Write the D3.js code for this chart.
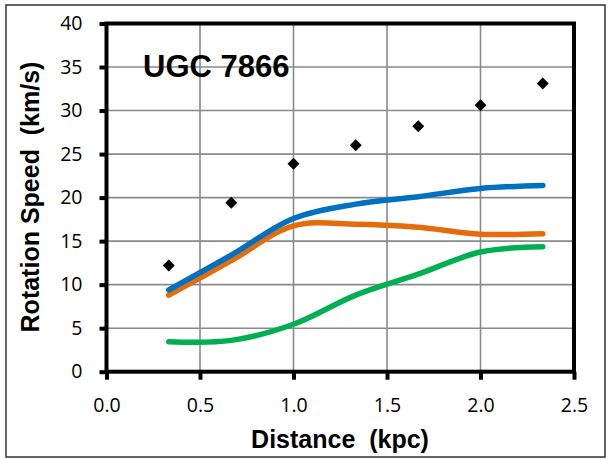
<!DOCTYPE html>
<html><head><meta charset="utf-8">
<script src="https://cdn.jsdelivr.net/npm/d3@7"></script>
<style>html,body{margin:0;padding:0;background:#fff}svg{display:block}</style>
</head><body>
<script>
const distances = [0.333, 0.667, 1.0, 1.333, 1.667, 2.0, 2.333];
const observed = [12.2, 19.4, 23.9, 26.0, 28.2, 30.6, 33.1];
const blueSeries = [9.4, 13.4, 17.6, 19.25, 20.1, 21.05, 21.4];
const orangeSeries = [8.8, 12.75, 16.75, 16.95, 16.6, 15.8, 15.85];
const greenSeries = [3.45, 3.6, 5.45, 8.8, 11.2, 13.75, 14.35];
const xTicks = [0, 0.5, 1.0, 1.5, 2.0, 2.5];
const yTicks = [0, 5, 10, 15, 20, 25, 30, 35, 40];
const chartTitle = "UGC 7866";
const xTitle = "Distance  (kpc)";
const yTitle = "Rotation Speed  (km/s)";

const W = 608, H = 459;
const svg = d3.select("body").append("svg").attr("width", W).attr("height", H);
svg.append("rect").attr("x", 6).attr("y", 5).attr("width", 599).attr("height", 452)
  .attr("fill", "#fff").attr("stroke", "#333").attr("stroke-width", 1.5);

const x = d3.scaleLinear().domain([0, 2.5]).range([106.5, 574]);
const y = d3.scaleLinear().domain([0, 40]).range([371.7, 23.5]);

// gridlines
const grid = svg.append("g");
grid.selectAll("line.v").data(xTicks.slice(1, -1)).enter().append("line")
  .attr("x1", d => x(d)).attr("x2", d => x(d)).attr("y1", y(40)).attr("y2", y(0))
  .attr("stroke", "#8a8a8a").attr("stroke-width", 1.6);
grid.selectAll("line.h").data(yTicks.slice(1, -1)).enter().append("line")
  .attr("x1", x(0)).attr("x2", x(2.5)).attr("y1", d => y(d)).attr("y2", d => y(d))
  .attr("stroke", "#8a8a8a").attr("stroke-width", 1.6);

// axes
const font = "'Open Sans', 'Noto Sans', sans-serif";
const xAxis = d3.axisBottom(x).tickValues(xTicks).tickFormat(d3.format(".1f")).tickSize(8).tickPadding(18);
const yAxis = d3.axisLeft(y).tickValues(yTicks).tickFormat(d3.format("d")).tickSize(7).tickPadding(17);
const gx = svg.append("g").attr("transform", `translate(0,${y(0)})`).call(xAxis);
const gy = svg.append("g").attr("transform", `translate(${x(0)},0)`).call(yAxis);
[gx, gy].forEach(g => {
  g.select(".domain").remove();
  g.selectAll(".tick line").attr("stroke", "#000").attr("stroke-width", 4);
  g.selectAll(".tick text").attr("fill", "#000").style("font-family", font).style("font-size", "19.5px");
});
gx.selectAll(".tick text").attr("dy", "0.71em");
// frame
svg.append("rect").attr("x", x(0)).attr("y", y(40)).attr("width", x(2.5) - x(0)).attr("height", y(0) - y(40))
  .attr("fill", "none").attr("stroke", "#000").attr("stroke-width", 4);

// lines
const line = d3.line().x((d, i) => x(distances[i])).y(d => y(d)).curve(d3.curveCatmullRom.alpha(0.5));
[[greenSeries, "#00B050"], [orangeSeries, "#E46C0A"], [blueSeries, "#0070C0"]].forEach(([s, c]) => {
  svg.append("path").attr("d", line(s)).attr("fill", "none").attr("stroke", c)
    .attr("stroke-width", 5.5).attr("stroke-linecap", "round").attr("stroke-linejoin", "round");
});

// diamonds
const sym = d3.symbol().type(d3.symbolSquare).size(72);
svg.selectAll("path.pt").data(observed).enter().append("path")
  .attr("d", sym).attr("fill", "#000")
  .attr("transform", (d, i) => `translate(${x(distances[i])},${y(d)}) rotate(45)`);

// titles
svg.append("text").attr("x", 143).attr("y", 77).text(chartTitle)
  .style("font-family", "'Liberation Sans', Arial, sans-serif").style("font-weight", "bold").style("font-size", "31px");
svg.append("text").attr("x", 340).attr("y", 448).attr("text-anchor", "middle").text(xTitle)
  .style("white-space", "pre")
  .style("font-family", "'Liberation Sans', Arial, sans-serif").style("font-weight", "bold").style("font-size", "25px");
svg.append("text").attr("transform", "translate(39,197) rotate(-90)").attr("text-anchor", "middle").text(yTitle)
  .style("white-space", "pre")
  .style("font-family", "'Liberation Sans', Arial, sans-serif").style("font-weight", "bold").style("font-size", "25px");
</script>
</body></html>
